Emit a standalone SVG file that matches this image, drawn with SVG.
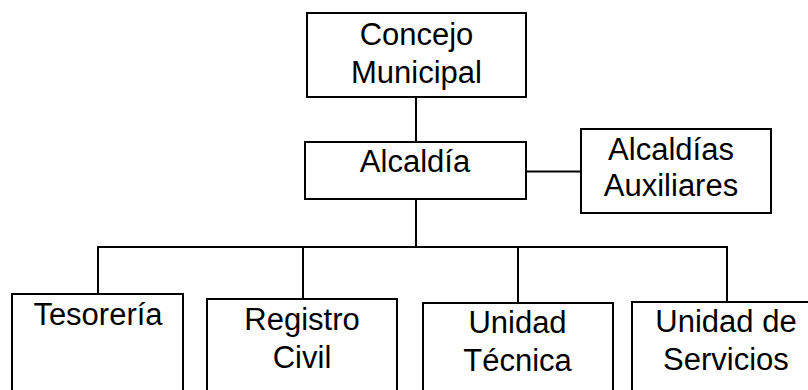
<svg xmlns="http://www.w3.org/2000/svg" width="808" height="390" viewBox="0 0 808 390">
<style>
.box{fill:#fff;stroke:#000;stroke-width:2}
.con line{stroke:#000;stroke-width:2}
text{font-family:"Liberation Sans",Arial,sans-serif;font-size:31px;fill:#000;text-anchor:middle}
</style>
<rect width="808" height="390" fill="#fff"/>
<g class="con" id="connectors">
<line x1="416" y1="97" x2="416" y2="142"/>
<line x1="416" y1="199" x2="416" y2="247"/>
<line x1="526" y1="171.5" x2="581" y2="171.5"/>
<line x1="97" y1="247" x2="728" y2="247"/>
<line x1="98" y1="247" x2="98" y2="294"/>
<line x1="303" y1="247" x2="303" y2="299"/>
<line x1="518" y1="247" x2="518" y2="303"/>
<line x1="727" y1="247" x2="727" y2="302"/>
</g>
<g id="concejo"><rect class="box" x="307" y="13" width="219" height="84"/><text x="416.5" y="45">Concejo</text><text x="416.5" y="82.5">Municipal</text></g>
<g id="alcaldia"><rect class="box" x="305" y="142" width="221" height="57"/><text x="415" y="171.5">Alcaldía</text></g>
<g id="auxiliares"><rect class="box" x="581" y="129" width="190" height="84"/><text x="671" y="160">Alcaldías</text><text x="671" y="196">Auxiliares</text></g>
<g id="tesoreria"><rect class="box" x="12" y="294" width="171" height="120"/><text x="98" y="325">Tesorería</text></g>
<g id="registro"><rect class="box" x="207" y="299" width="190" height="120"/><text x="302" y="330">Registro</text><text x="302" y="367.5">Civil</text></g>
<g id="tecnica"><rect class="box" x="423" y="303" width="190" height="120"/><text x="517.5" y="333">Unidad</text><text x="517.5" y="371">Técnica</text></g>
<g id="servicios"><rect class="box" x="632" y="302" width="200" height="120"/><text x="726" y="331.5">Unidad de</text><text x="726" y="369.5">Servicios</text></g>
</svg>
